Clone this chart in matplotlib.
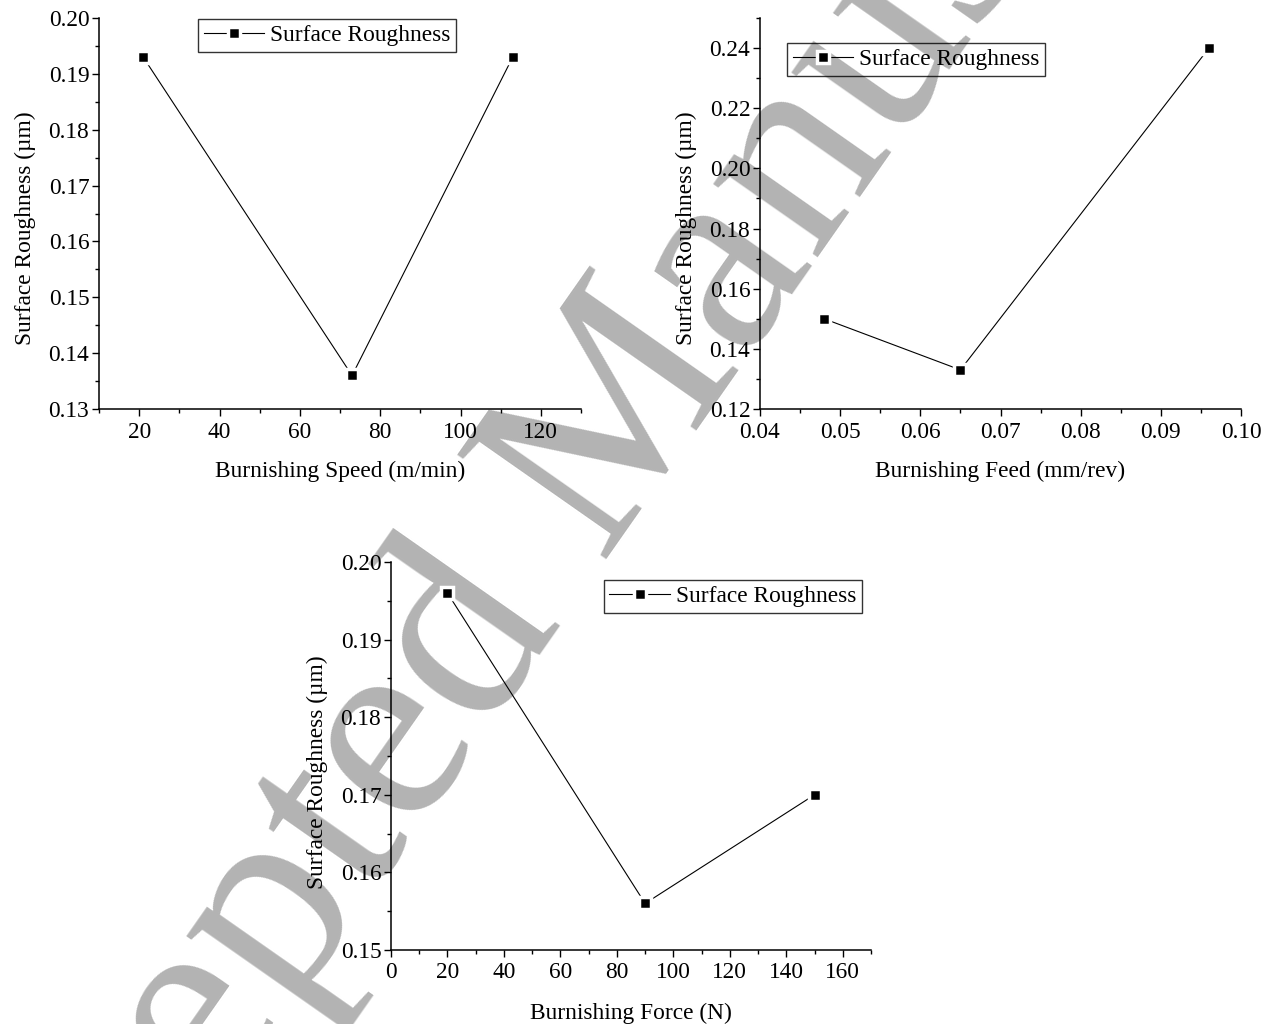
import matplotlib
matplotlib.use("Agg")
import matplotlib.pyplot as plt
from matplotlib.ticker import MultipleLocator, FormatStrFormatter

plt.rcParams["font.family"] = ["Liberation Serif", "DejaVu Serif"]

# Burnishing speed study
speed = [21, 73, 113]
speed_ra = [0.193, 0.136, 0.193]

# Burnishing feed study
feed = [0.048, 0.065, 0.096]
feed_ra = [0.150, 0.133, 0.240]

# Burnishing force study
force = [20, 90, 150]
force_ra = [0.196, 0.156, 0.170]

series_label = "Surface Roughness"
y_label = "Surface Roughness (\u00b5m)"

FS = 16.8

fig = plt.figure(figsize=(12.7, 10.24), dpi=100)

# Large diagonal watermark, drawn beneath the plots
fig.text(0.4646, 0.544, "Accepted Manuscript", fontsize=200, color="#b3b3b3",
         rotation=55, rotation_mode="anchor", ha="center", va="center",
         family="Liberation Serif", zorder=-5)

W, H = 1270, 1024


def make_axes(l, r, t, b):
    return fig.add_axes([l / W, 1 - b / H, (r - l) / W, (b - t) / H])


def style(ax, xlim, ylim, xmaj, xmin, ymaj, ymin, xfmt, yfmt):
    ax.set_facecolor("none")
    ax.set_xlim(*xlim)
    ax.set_ylim(*ylim)
    ax.xaxis.set_major_locator(MultipleLocator(xmaj))
    ax.xaxis.set_minor_locator(MultipleLocator(xmin))
    ax.yaxis.set_major_locator(MultipleLocator(ymaj))
    ax.yaxis.set_minor_locator(MultipleLocator(ymin))
    ax.xaxis.set_major_formatter(FormatStrFormatter(xfmt))
    ax.yaxis.set_major_formatter(FormatStrFormatter(yfmt))
    for s in ("top", "right"):
        ax.spines[s].set_visible(False)
    for s in ("left", "bottom"):
        ax.spines[s].set_linewidth(1.1)
    ax.tick_params(which="major", direction="out", length=5, width=1.0,
                   labelsize=FS)
    ax.tick_params(axis="y", which="major", pad=2)
    ax.tick_params(axis="x", which="major", pad=4)
    ax.tick_params(which="minor", direction="out", length=3, width=1.0)


def plot_series(ax, x, y, anchor):
    ax.plot(x, y, color="black", lw=0.8, marker="s", ms=8.4,
            mfc="black", mec="white", mew=2.5, label=series_label,
            clip_on=False)
    leg = ax.legend(loc="upper left", bbox_to_anchor=anchor, fontsize=FS,
                    frameon=True, fancybox=False, edgecolor="black",
                    handlelength=2.6, handletextpad=0.25, borderpad=0.25,
                    borderaxespad=0.0)
    leg.get_frame().set_linewidth(1.0)
    leg.get_frame().set_facecolor("none")


# Panel: speed
ax1 = make_axes(99, 581, 18, 409)
style(ax1, (10, 130), (0.13, 0.20), 20, 10, 0.01, 0.005, "%d", "%.2f")
plot_series(ax1, speed, speed_ra, (0.205, 0.997))
ax1.set_xlabel("Burnishing Speed (m/min)", fontsize=FS, labelpad=13)
ax1.set_ylabel(y_label, fontsize=FS, labelpad=9)
ax1.yaxis.label.set_y(0.462)

# Panel: feed
ax2 = make_axes(760, 1241, 18, 409)
style(ax2, (0.04, 0.10), (0.12, 0.25), 0.01, 0.005, 0.02, 0.01, "%.2f", "%.2f")
plot_series(ax2, feed, feed_ra, (0.056, 0.936))
ax2.set_xlabel("Burnishing Feed (mm/rev)", fontsize=FS, labelpad=13)
ax2.set_ylabel(y_label, fontsize=FS, labelpad=9)
ax2.yaxis.label.set_y(0.462)

# Panel: force
ax3 = make_axes(391, 871, 562, 950)
style(ax3, (0, 170), (0.15, 0.20), 20, 10, 0.01, 0.005, "%d", "%.2f")
plot_series(ax3, force, force_ra, (0.443, 0.954))
ax3.set_xlabel("Burnishing Force (N)", fontsize=FS, labelpad=14)
ax3.set_ylabel(y_label, fontsize=FS, labelpad=9)
ax3.yaxis.label.set_y(0.459)

fig.savefig("out.png", dpi=100)
